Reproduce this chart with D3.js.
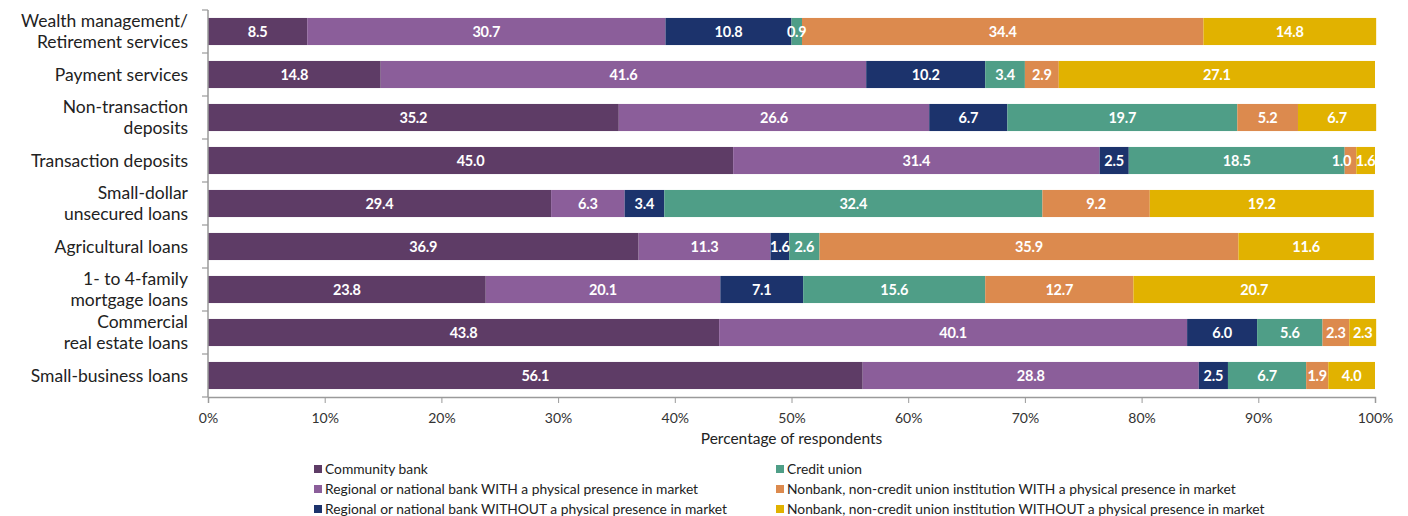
<!DOCTYPE html>
<html>
<head>
<meta charset="utf-8">
<script src="https://cdn.jsdelivr.net/npm/d3@7"></script>
<style>
  body { margin: 0; background: #fff; }
  svg { display: block; font-family: Lato, "Open Sans", sans-serif; }
</style>
</head>
<body>
<svg width="1408" height="516"></svg>
<script>
const categories = [
  ['Wealth management/', 'Retirement services'],
  ['Payment services'],
  ['Non-transaction', 'deposits'],
  ['Transaction deposits'],
  ['Small-dollar', 'unsecured loans'],
  ['Agricultural loans'],
  ['1- to 4-family', 'mortgage loans'],
  ['Commercial', 'real estate loans'],
  ['Small-business loans']
];
const seriesNames = [
  'Community bank',
  'Regional or national bank WITH a physical presence in market',
  'Regional or national bank WITHOUT a physical presence in market',
  'Credit union',
  'Nonbank, non-credit union institution WITH a physical presence in market',
  'Nonbank, non-credit union institution WITHOUT a physical presence in market'
];
const communityBank   = [8.5, 14.8, 35.2, 45.0, 29.4, 36.9, 23.8, 43.8, 56.1];
const regionalWith    = [30.7, 41.6, 26.6, 31.4, 6.3, 11.3, 20.1, 40.1, 28.8];
const regionalWithout = [10.8, 10.2, 6.7, 2.5, 3.4, 1.6, 7.1, 6.0, 2.5];
const creditUnion     = [0.9, 3.4, 19.7, 18.5, 32.4, 2.6, 15.6, 5.6, 6.7];
const nonbankWith     = [34.4, 2.9, 5.2, 1.0, 9.2, 35.9, 12.7, 2.3, 1.9];
const nonbankWithout  = [14.8, 27.1, 6.7, 1.6, 19.2, 11.6, 20.7, 2.3, 4.0];
const xTicks = [0, 10, 20, 30, 40, 50, 60, 70, 80, 90, 100];
const colors = ['#5e3c66', '#8b5e9a', '#1c336c', '#4f9e87', '#dc8a4e', '#e1b200'];

const series = [communityBank, regionalWith, regionalWithout, creditUnion, nonbankWith, nonbankWithout];
const rows = categories.map((c, i) => {
  const r = { idx: i };
  series.forEach((s, k) => { r['s' + k] = s[i]; });
  return r;
});
const keys = series.map((s, k) => 's' + k);
const stacked = d3.stack().keys(keys)(rows);

// the small "1.0" label in Transaction deposits is pushed left in the original
const labelNudge = { '4-3': -9 };

const svg = d3.select('svg');
const x = d3.scaleLinear().domain([0, 100]).range([208, 1375]);
const y = d3.scaleBand().domain(d3.range(categories.length)).range([10, 397])
  .paddingInner(0.37).paddingOuter(0.185);

// bars
const layer = svg.append('g').selectAll('g')
  .data(stacked)
  .enter().append('g')
  .attr('fill', (d, k) => colors[k]);

layer.selectAll('rect')
  .data(d => d)
  .enter().append('rect')
  .attr('x', d => x(d[0]))
  .attr('y', d => y(d.data.idx))
  .attr('width', d => x(d[1]) - x(d[0]))
  .attr('height', y.bandwidth());

// labels go on top of every bar so narrow ones are not hidden
const labels = stacked.flatMap((d, k) => d.map(p => ({ p, k })));
svg.append('g').selectAll('text')
  .data(labels)
  .enter().append('text')
  .attr('x', d => (x(d.p[0]) + x(d.p[1])) / 2 + (labelNudge[d.k + '-' + d.p.data.idx] || 0))
  .attr('y', d => y(d.p.data.idx) + y.bandwidth() / 2)
  .attr('dy', '0.36em')
  .attr('text-anchor', 'middle')
  .attr('fill', '#fff')
  .attr('font-weight', 700)
  .attr('font-size', 14.5)
  .attr('letter-spacing', -0.2)
  .text(d => (d.p[1] - d.p[0]).toFixed(1));

// x axis
const xAxis = svg.append('g')
  .attr('transform', `translate(0, 397)`)
  .call(d3.axisBottom(x).tickValues(xTicks).tickFormat(d => d + '%').tickSize(6).tickSizeOuter(6));
xAxis.select('.domain').attr('stroke', '#9a9a9a').attr('stroke-width', 1.5);
xAxis.selectAll('.tick line').attr('stroke', '#9a9a9a');
xAxis.selectAll('.tick text').attr('font-size', 14).attr('fill', '#333').attr('dy', '1.2em')
  .attr('font-family', 'Lato, sans-serif');

svg.append('text')
  .attr('x', (x(0) + x(100)) / 2)
  .attr('y', 444)
  .attr('text-anchor', 'middle')
  .attr('font-size', 15.5)
  .attr('fill', '#222')
  .text('Percentage of respondents');

// y axis: line with ticks at band boundaries
const yAxis = svg.append('g');
yAxis.append('line')
  .attr('x1', x(0)).attr('x2', x(0))
  .attr('y1', y.range()[0]).attr('y2', y.range()[1])
  .attr('stroke', '#9a9a9a').attr('stroke-width', 1.5);
yAxis.selectAll('.ytick')
  .data(d3.range(categories.length + 1))
  .enter().append('line')
  .attr('x1', x(0) - 6).attr('x2', x(0))
  .attr('y1', i => y.range()[0] + i * y.step())
  .attr('y2', i => y.range()[0] + i * y.step())
  .attr('stroke', '#9a9a9a').attr('stroke-width', 1.2);

const catLabel = svg.append('g').selectAll('text')
  .data(categories)
  .enter().append('text')
  .attr('text-anchor', 'end')
  .attr('font-size', 17.5)
  .attr('fill', '#222')
  .attr('y', (d, i) => y(i) + y.bandwidth() / 2);
catLabel.selectAll('tspan')
  .data(d => d.map((t, j) => ({ t, j, n: d.length })))
  .enter().append('tspan')
  .attr('x', 188)
  .attr('dy', d => d.j === 0 ? (d.n === 1 ? '0.35em' : (0.35 - 0.58) + 'em') : '1.16em')
  .text(d => d.t);

// legend
const legendPos = [[314, 469], [314, 489], [314, 509], [776, 469], [776, 489], [776, 509]];
const legend = svg.append('g').selectAll('g')
  .data(seriesNames)
  .enter().append('g')
  .attr('transform', (d, i) => `translate(${legendPos[i][0]}, ${legendPos[i][1]})`);
legend.append('rect')
  .attr('x', 0).attr('y', -4).attr('width', 8).attr('height', 8)
  .attr('fill', (d, i) => colors[i]);
legend.append('text')
  .attr('x', 11).attr('dy', '0.35em')
  .attr('font-size', 13.8)
  .attr('fill', '#222')
  .text(d => d);
</script>
</body>
</html>
